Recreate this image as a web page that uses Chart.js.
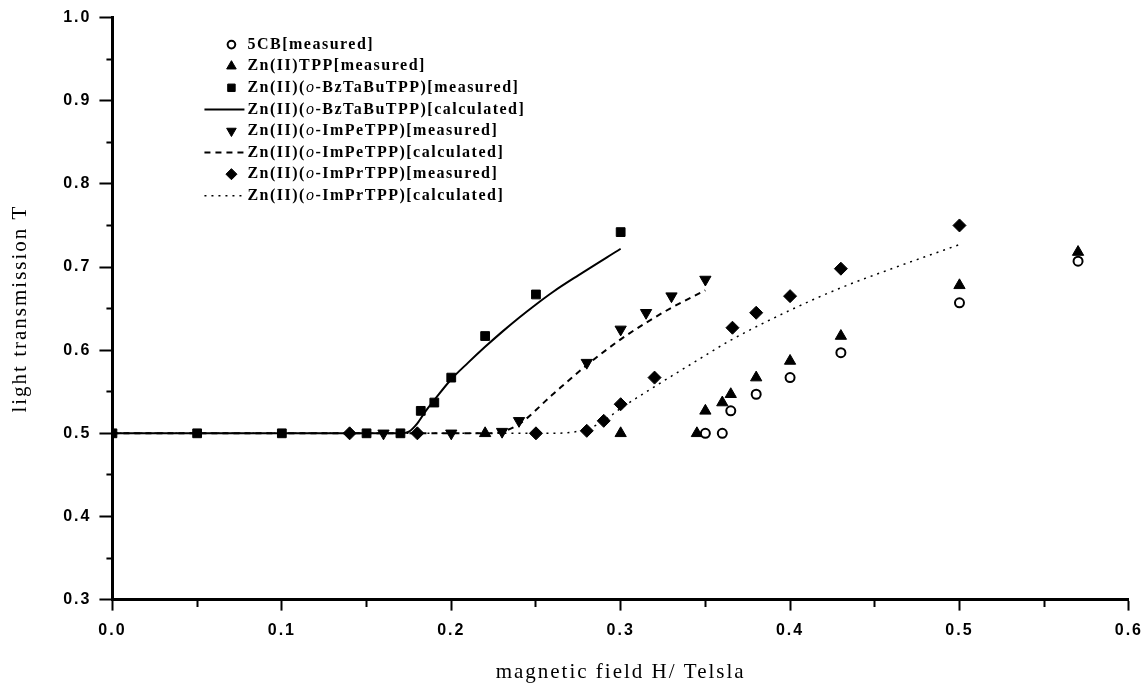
<!DOCTYPE html>
<html lang="en">
<head>
  <meta charset="UTF-8">
  <title>Light transmission vs magnetic field</title>
  <script src="https://cdn.jsdelivr.net/npm/chart.js"></script>
  <style>
    body { margin: 0; background: #fff; overflow: hidden; }
    /* a bit wider than the window so the 0.6 label runs to the edge like the scan */
    .box { width: 1153px; height: 683px; }
  </style>
</head>
<body>
  <div class="box"><canvas id="grafico"></canvas></div>
<script>
// measured points (H in tesla, T)
const cbH = [0.35, 0.36, 0.365, 0.38, 0.40, 0.43, 0.50, 0.57];
const cbT = [0.50, 0.50, 0.527, 0.547, 0.567, 0.597, 0.657, 0.707];

const tppH = [0.22, 0.30, 0.345, 0.35, 0.36, 0.365, 0.38, 0.40, 0.43, 0.50, 0.57];
const tppT = [0.50, 0.50, 0.50, 0.527, 0.537, 0.547, 0.567, 0.587, 0.617, 0.678, 0.718];

const bzH = [0, 0.05, 0.10, 0.15, 0.17, 0.182, 0.19, 0.20, 0.22, 0.25, 0.30];
const bzT = [0.50, 0.50, 0.50, 0.50, 0.50, 0.527, 0.537, 0.567, 0.617, 0.667, 0.742];

const peH = [0.16, 0.20, 0.23, 0.24, 0.28, 0.30, 0.315, 0.33, 0.35];
const peT = [0.50, 0.50, 0.502, 0.515, 0.585, 0.625, 0.645, 0.665, 0.685];

const prH = [0.14, 0.18, 0.25, 0.28, 0.29, 0.30, 0.32, 0.366, 0.38, 0.40, 0.43, 0.50];
const prT = [0.50, 0.50, 0.50, 0.503, 0.515, 0.535, 0.567, 0.627, 0.645, 0.665, 0.698, 0.75];

// calculated curves
const bzCalcH = [0, 0.17, 0.175, 0.18, 0.185, 0.19, 0.20, 0.21, 0.22, 0.23, 0.24, 0.25, 0.26, 0.275, 0.30];
const bzCalcT = [0.50, 0.50, 0.502, 0.512, 0.527, 0.54, 0.565, 0.585, 0.604, 0.622, 0.639, 0.655, 0.67, 0.69, 0.722];

const peCalcH = [0, 0.22, 0.23, 0.24, 0.26, 0.28, 0.30, 0.315, 0.33, 0.35];
const peCalcT = [0.50, 0.50, 0.502, 0.511, 0.547, 0.582, 0.613, 0.633, 0.651, 0.672];

const prCalcH = [0, 0.26, 0.27, 0.28, 0.29, 0.30, 0.316, 0.347, 0.365, 0.40, 0.43, 0.46, 0.50];
const prCalcT = [0.50, 0.50, 0.501, 0.505, 0.515, 0.53, 0.551, 0.59, 0.612, 0.648, 0.675, 0.698, 0.727];

const legendas = [
  '5CB[measured]',
  'Zn(II)TPP[measured]',
  'Zn(II)(o-BzTaBuTPP)[measured]',
  'Zn(II)(o-BzTaBuTPP)[calculated]',
  'Zn(II)(o-ImPeTPP)[measured]',
  'Zn(II)(o-ImPeTPP)[calculated]',
  'Zn(II)(o-ImPrTPP)[measured]',
  'Zn(II)(o-ImPrTPP)[calculated]'
];

function pontos(xs, ys) {
  return xs.map((x, i) => ({ x: x, y: ys[i] }));
}

function medido(label, xs, ys, estilo, raio, extra) {
  return Object.assign({
    label: label,
    data: pontos(xs, ys),
    showLine: false,
    pointStyle: estilo,
    pointRadius: raio,
    pointBackgroundColor: '#000',
    pointBorderColor: '#000',
    pointBorderWidth: 1
  }, extra || {});
}

function calculado(label, xs, ys, dash, largura) {
  return {
    label: label,
    data: pontos(xs, ys),
    showLine: true,
    pointRadius: 0,
    borderColor: '#000',
    borderWidth: largura,
    borderDash: dash,
    cubicInterpolationMode: 'monotone'
  };
}

const ehMaior = v => Math.abs(v * 10 - Math.round(v * 10)) < 1e-6;

// letter spacing like the scanned figure
const espacamento = {
  id: 'espacamento',
  beforeUpdate(chart) { chart.ctx.letterSpacing = '2px'; },
  beforeDraw(chart) { chart.ctx.letterSpacing = '2px'; }
};

// legend drawn inside the plot, top left
const legendaInterna = {
  id: 'legendaInterna',
  afterDraw(chart) {
    const ctx = chart.ctx;
    const area = chart.chartArea;
    const xm = area.left + 119;
    const xt = area.left + 135;
    ctx.save();
    ctx.letterSpacing = '1.5px';
    ctx.textBaseline = 'middle';
    chart.data.datasets.forEach((ds, i) => {
      const y = area.top + 27 + i * 21.6;
      ctx.fillStyle = '#000';
      ctx.strokeStyle = '#000';
      if (ds.showLine) {
        ctx.lineWidth = ds.borderWidth;
        ctx.setLineDash(ds.borderDash || []);
        ctx.beginPath();
        ctx.moveTo(xm - 27, y);
        ctx.lineTo(xt - 3, y);
        ctx.stroke();
        ctx.setLineDash([]);
      } else {
        ctx.fillStyle = ds.pointBackgroundColor;
        ctx.lineWidth = ds.pointBorderWidth;
        Chart.helpers.drawPoint(ctx, {
          pointStyle: ds.pointStyle,
          rotation: ds.rotation || 0,
          radius: ds.pointRadius * 0.85,
          borderWidth: ds.pointBorderWidth
        }, xm, y);
      }
      ctx.fillStyle = '#000';
      const partes = legendas[i].split('(o-');
      let x = xt;
      const negrito = 'bold 16px "Liberation Serif", serif';
      ctx.font = negrito;
      ctx.fillText(partes[0] + (partes.length > 1 ? '(' : ''), x, y);
      if (partes.length > 1) {
        x += ctx.measureText(partes[0] + '(').width;
        ctx.font = 'italic 16px "Liberation Serif", serif';
        ctx.fillText('o', x, y);
        x += ctx.measureText('o').width;
        ctx.font = negrito;
        ctx.fillText('-' + partes[1], x, y);
      }
    });
    ctx.restore();
  }
};

const fonteTick = { family: '"Liberation Sans", Arial, sans-serif', size: 16, weight: 'bold' };
const fonteTitulo = { family: '"Liberation Serif", "Times New Roman", serif', size: 21 };

new Chart(document.getElementById('grafico'), {
  type: 'scatter',
  data: {
    datasets: [
      medido(legendas[0], cbH, cbT, 'circle', 4.5, { pointBackgroundColor: '#fff', pointBorderWidth: 2 }),
      medido(legendas[1], tppH, tppT, 'triangle', 6.5),
      medido(legendas[2], bzH, bzT, 'rect', 6.2),
      calculado(legendas[3], bzCalcH, bzCalcT, [], 2),
      medido(legendas[4], peH, peT, 'triangle', 6.5, { rotation: 180 }),
      calculado(legendas[5], peCalcH, peCalcT, [6, 5], 2),
      medido(legendas[6], prH, prT, 'rectRot', 6.5),
      calculado(legendas[7], prCalcH, prCalcT, [2, 5], 1.5)
    ]
  },
  options: {
    responsive: true,
    maintainAspectRatio: false,
    animation: false,
    layout: { padding: { left: 4, top: 8, right: 0, bottom: -2 } },
    plugins: {
      legend: { display: false },
      tooltip: { enabled: false }
    },
    scales: {
      x: {
        type: 'linear',
        min: 0,
        max: 0.6,
        border: { display: true, color: '#000', width: 3 },
        grid: {
          drawOnChartArea: false,
          color: '#000',
          tickColor: '#000',
          tickLength: 11,
          tickWidth: 2,
          tickBorderDash: c => ehMaior(c.tick.value) ? [] : [6, 50]
        },
        ticks: {
          stepSize: 0.05,
          autoSkip: false,
          maxRotation: 0,
          padding: 10,
          color: '#000',
          font: fonteTick,
          callback: v => ehMaior(v) ? v.toFixed(1) : ''
        },
        title: {
          display: true,
          text: 'magnetic field H/ Telsla',
          color: '#000',
          font: fonteTitulo,
          padding: { top: 10, bottom: 0 }
        }
      },
      y: {
        type: 'linear',
        min: 0.3,
        max: 1.0,
        border: { display: true, color: '#000', width: 3 },
        grid: {
          drawOnChartArea: false,
          color: '#000',
          tickColor: '#000',
          tickLength: 13,
          tickWidth: 2,
          tickBorderDash: c => ehMaior(c.tick.value) ? [] : [0, 7, 6, 50]
        },
        ticks: {
          stepSize: 0.05,
          autoSkip: false,
          padding: 8,
          color: '#000',
          font: fonteTick,
          callback: v => ehMaior(v) ? v.toFixed(1) : ''
        },
        title: {
          display: true,
          text: 'light transmission T',
          color: '#000',
          font: fonteTitulo,
          padding: { top: 4, bottom: 22 }
        }
      }
    }
  },
  plugins: [espacamento, legendaInterna]
});
</script>
</body>
</html>
